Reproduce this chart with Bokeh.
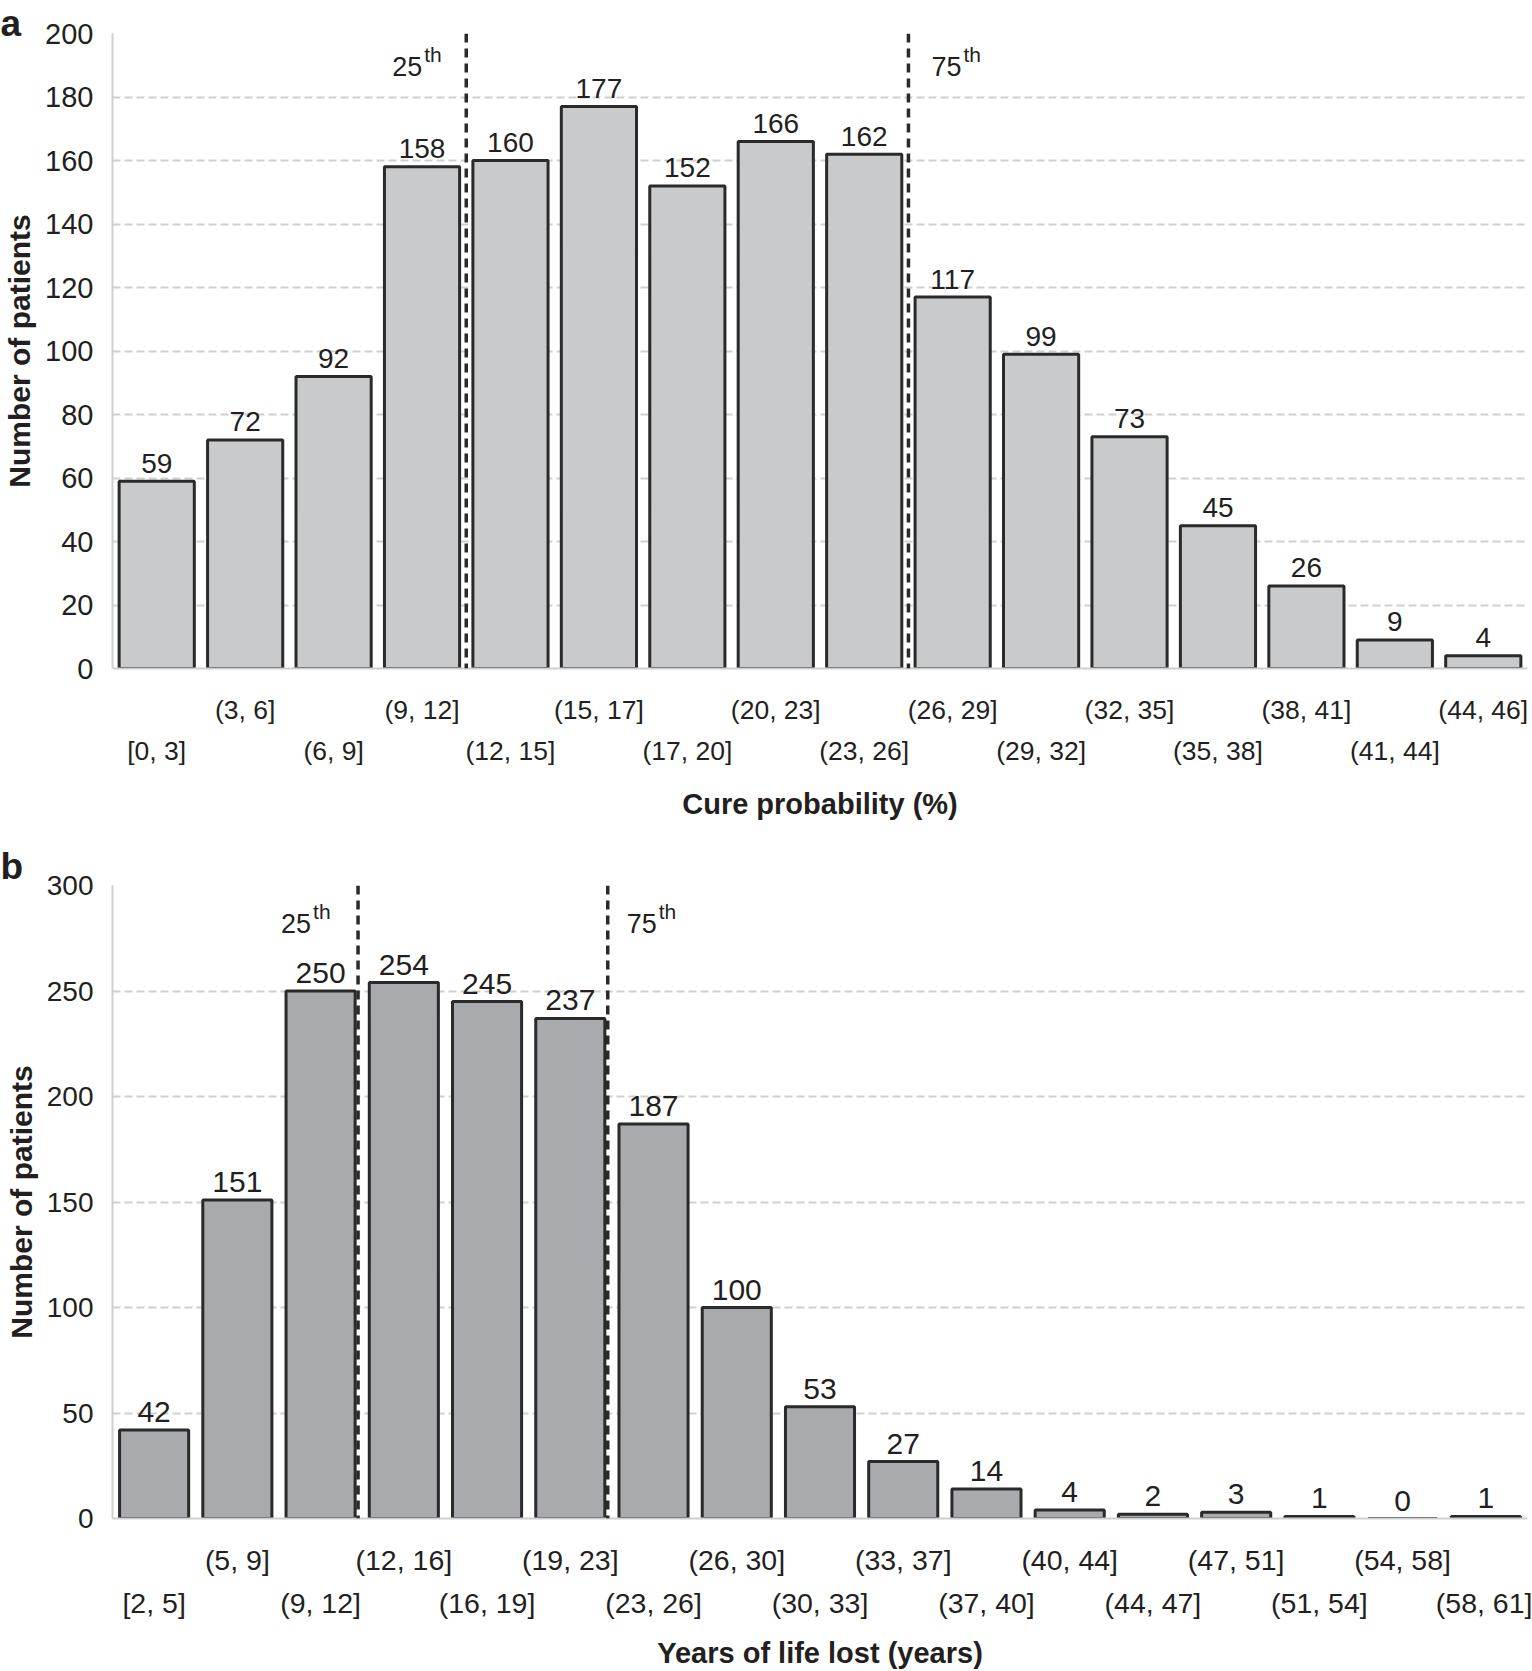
from bokeh.plotting import figure
from bokeh.models import Range1d, LinearAxis, FixedTicker, Span, Label, ColumnDataSource
from bokeh.layouts import column
from bokeh.embed import file_html
from bokeh.resources import INLINE
from bokeh.core.properties import value

# ---------------- data ----------------
cats_a = ["[0, 3]", "(3, 6]", "(6, 9]", "(9, 12]", "(12, 15]", "(15, 17]", "(17, 20]",
          "(20, 23]", "(23, 26]", "(26, 29]", "(29, 32]", "(32, 35]", "(35, 38]",
          "(38, 41]", "(41, 44]", "(44, 46]"]
vals_a = [59, 72, 92, 158, 160, 177, 152, 166, 162, 117, 99, 73, 45, 26, 9, 4]
yticks_a = [0, 20, 40, 60, 80, 100, 120, 140, 160, 180, 200]
pct_pos_a = [3.5, 8.5]          # 25th / 75th percentile positions (bin boundaries)

cats_b = ["[2, 5]", "(5, 9]", "(9, 12]", "(12, 16]", "(16, 19]", "(19, 23]", "(23, 26]",
          "(26, 30]", "(30, 33]", "(33, 37]", "(37, 40]", "(40, 44]", "(44, 47]",
          "(47, 51]", "(51, 54]", "(54, 58]", "(58, 61]"]
vals_b = [42, 151, 250, 254, 245, 237, 187, 100, 53, 27, 14, 4, 2, 3, 1, 0, 1]
yticks_b = [0, 50, 100, 150, 200, 250, 300]
pct_pos_b = [2.45, 5.45]

pct_names = ["25", "75"]
pct_suffix = "th"

FONT = "Liberation Sans"
TXT = "#231f20"
LEFT = 112


def make_panel(cats, vals, yticks, pct_pos, letter, xtitle, fill, bar_w,
               height, b_top, b_bottom, s_up, s_low, s_title,
               title_valign, title_standoff, pct_y, pct_dx,
               fs_ytick, fs_xtick, fs_val):
    n = len(cats)
    idx = list(range(n))
    src = ColumnDataSource(dict(x=idx, top=vals, lab=[str(v) for v in vals]))
    p = figure(width=1532, height=height, output_backend="svg", toolbar_location=None,
               x_range=Range1d(-0.5, n - 0.5), y_range=Range1d(yticks[0], yticks[-1]),
               x_axis_location=None, min_border_left=LEFT, min_border_right=5,
               min_border_top=b_top, min_border_bottom=b_bottom, title=letter)
    p.outline_line_color = None
    p.background_fill_color = "white"
    p.border_fill_color = "white"

    t = p.title
    t.align = "left"
    t.offset = -LEFT
    t.vertical_align = title_valign
    t.standoff = title_standoff
    t.text_font = FONT
    t.text_font_style = "bold"
    t.text_font_size = "37px"
    t.text_color = TXT

    p.xgrid.visible = False
    p.ygrid.ticker = FixedTicker(ticks=yticks)
    p.ygrid.grid_line_color = "#cfcfcf"
    p.ygrid.grid_line_width = 2
    p.ygrid.grid_line_dash = "8 4"

    ya = p.yaxis[0]
    ya.ticker = FixedTicker(ticks=yticks)
    ya.axis_line_color = "#cfcfcf"
    ya.axis_line_width = 2
    ya.major_tick_line_color = None
    ya.minor_tick_line_color = None
    ya.major_label_standoff = 13
    ya.major_label_text_font = FONT
    ya.major_label_text_font_size = fs_ytick
    ya.major_label_text_color = TXT
    ya.axis_label = "Number of patients"
    ya.axis_label_text_font = FONT
    ya.axis_label_text_font_style = "bold"
    ya.axis_label_text_font_size = "30px"
    ya.axis_label_text_color = TXT
    ya.axis_label_standoff = 6

    odd = [i for i in idx if i % 2 == 1]
    even = [i for i in idx if i % 2 == 0]
    ax1 = LinearAxis(ticker=FixedTicker(ticks=odd),
                     major_label_overrides={i: cats[i] for i in odd})
    ax2 = LinearAxis(ticker=FixedTicker(ticks=even),
                     major_label_overrides={i: cats[i] for i in even},
                     axis_label=xtitle)
    for ax, st in ((ax1, s_up), (ax2, s_low)):
        ax.major_tick_line_color = None
        ax.minor_tick_line_color = None
        ax.major_label_standoff = st
        ax.major_label_text_font = FONT
        ax.major_label_text_font_size = fs_xtick
        ax.major_label_text_color = TXT
    ax1.axis_line_color = "#cfcfcf"
    ax1.axis_line_width = 2
    ax2.axis_line_color = None
    ax2.axis_label_text_font = FONT
    ax2.axis_label_text_font_style = "bold"
    ax2.axis_label_text_font_size = "29px"
    ax2.axis_label_text_color = TXT
    ax2.axis_label_standoff = s_title
    p.add_layout(ax1, "below")
    p.add_layout(ax2, "below")

    p.vbar(x="x", top="top", bottom=0, width=bar_w, source=src,
           fill_color=fill, line_color="#2a2a2a", line_width=3)
    p.text(x="x", y="top", text="lab", source=src, text_align="center",
           text_baseline="alphabetic", y_offset=-18, text_font=value(FONT),
           text_font_size=fs_val, text_color=TXT)

    for k, pos in enumerate(pct_pos):
        p.add_layout(Span(location=pos, dimension="height", line_color="#2a2a2a",
                          line_width=3.5, line_dash="9 6"))
        dx = pct_dx[k]
        if dx < 0:
            p.add_layout(Label(x=pos, y=pct_y, x_offset=dx - 18, y_offset=10, text=pct_names[k],
                               text_align="right", text_baseline="alphabetic",
                               text_font=FONT, text_font_size="27px", text_color=TXT))
            p.add_layout(Label(x=pos, y=pct_y, x_offset=dx - 16, y_offset=22, text=pct_suffix,
                               text_align="left", text_baseline="alphabetic",
                               text_font=FONT, text_font_size="21px", text_color=TXT))
        else:
            p.add_layout(Label(x=pos, y=pct_y, x_offset=dx, y_offset=10, text=pct_names[k],
                               text_align="left", text_baseline="alphabetic",
                               text_font=FONT, text_font_size="27px", text_color=TXT))
            p.add_layout(Label(x=pos, y=pct_y, x_offset=dx + 32, y_offset=22, text=pct_suffix,
                               text_align="left", text_baseline="alphabetic",
                               text_font=FONT, text_font_size="21px", text_color=TXT))
    return p


pa = make_panel(cats_a, vals_a, yticks_a, pct_pos_a, "a", "Cure probability (%)",
                "#c9cacc", 0.85, 832, 33, 164, 20, 2, 19, "middle", -22,
                186.5, [-26, 23], "29px", "26.5px", "28px")
pb = make_panel(cats_b, vals_b, yticks_b, pct_pos_b, "b", "Years of life lost (years)",
                "#a9aaad", 0.83, 839, 53, 150, 19, 2, 15, "middle", -5,
                277.4, [-29, 19], "28px", "28.5px", "30px")

layout = column(pa, pb, spacing=0)
open("out.html", "w").write(file_html(layout, INLINE))
